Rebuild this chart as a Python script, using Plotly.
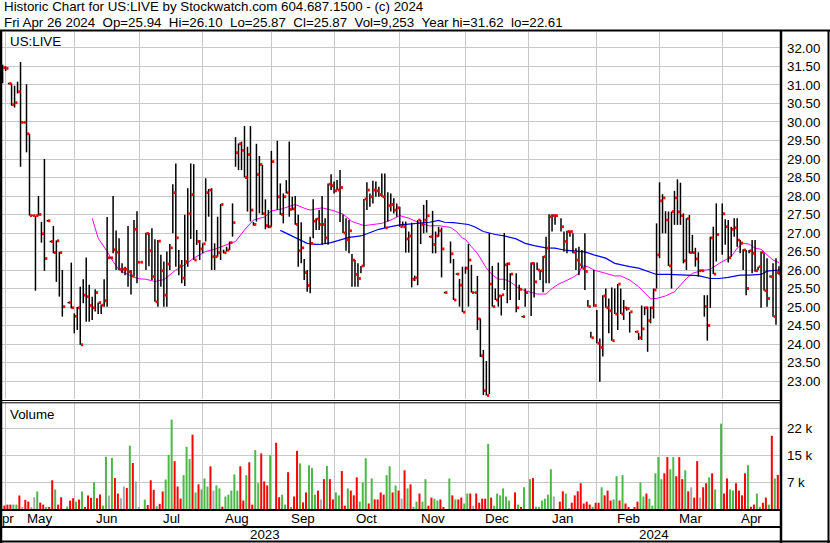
import numpy as np
import pandas as pd
import plotly.graph_objects as go

W, H = 830, 543

# ---- data: one entry per weekday from Fri 2023-04-28 to Fri 2024-04-26 (None = market holiday)
start_date, end_date = "2023-04-28", "2024-04-26"

high = [
    31.55, 31.50, 31.06, 31.04, 30.98, 31.09, 31.62, 30.00, 31.02, 29.68,
    27.48, 27.47, 28.00, 27.30, 29.00, 27.35, 26.79, 27.19, 26.80, 26.49,
    26.00, None, 25.14, 26.20, 24.83, 25.00, 25.55, 25.75, 26.34, 25.60,
    25.28, 25.48, 25.12, 25.07, 25.75, 27.43, 26.35, 28.00, 27.07, 26.86,
    26.18, 26.09, 27.19, 26.00, 27.35, 27.59, 26.22, None, 27.01, 27.00,
    27.13, 26.83, 26.81, 26.41, 26.23, 26.50, 26.70, 28.32, 28.88, 26.54,
    26.27, 27.49, 28.21, 28.88, 28.86, 27.08, 26.81, 26.72, 28.48, 28.19,
    28.21, 26.72, 27.44, 27.78, 26.55, 26.63, 26.77, 27.80, 29.59, 29.42,
    29.47, 29.89, 29.33, 29.89, 27.30, 29.41, 29.08, 28.84, 27.91, 27.62,
    29.22, None, 29.49, 28.34, 28.07, 28.43, 29.47, 27.98, 28.00, 27.49,
    27.29, 26.30, 26.00, 26.90, 27.91, 27.40, 27.62, 28.00, 27.40, 28.34,
    28.59, 28.39, 28.43, 28.70, 27.50, 27.40, 27.35, 26.43, 26.27, 26.18,
    26.11, 27.92, 28.37, 28.07, 28.41, 28.39, 28.25, 28.61, 28.61, 28.10,
    28.07, 27.94, 27.80, 27.71, 27.31, 27.31, 27.04, 27.28, 25.85, 27.35,
    27.35, 27.76, 27.89, 26.92, 27.60, 27.04, 27.17, 27.15, 25.41, None,
    26.77, 26.30, 25.91, 25.76, 26.09, 26.09, 26.70, 26.14, 25.40, 25.84,
    24.69, 23.84, 23.54, 27.00, 26.11, 25.50, 26.20, 25.32, 27.00, 26.20,
    25.91, None, 25.91, 25.60, 24.76, 25.50, None, 26.20, 26.20, 26.20,
    26.00, 26.38, 26.90, 27.51, 27.51, 27.51, None, 27.40, 27.04, 27.06,
    27.06, 26.99, 26.59, 26.63, 26.54, 26.99, 25.19, 24.33, 26.00, 24.92,
    24.15, 25.32, 25.50, 25.23, 25.53, 25.50, 25.62, 25.50, 25.19, 25.00,
    24.87, None, 24.35, 24.30, 25.04, 25.01, 25.01, 25.01, 25.50, 27.26,
    28.37, 28.05, 27.59, 27.58, 27.58, 28.14, 28.45, 28.36, 27.53, 27.40,
    27.49, 26.95, 26.60, 26.48, 26.01, 25.32, 25.32, 26.90, 27.17, 27.80,
    None, 27.80, 27.37, 27.35, 27.17, 27.40, 27.40, 26.81, 26.56, 26.54,
    26.54, 26.81, 26.81, 26.09, 26.50, 26.45, 26.32, 25.85, 26.18, 26.32, 26.10,
]
low = [
    31.05, 31.38, 31.02, 30.44, 30.39, 30.77, 28.79, 29.98, 29.18, 27.47,
    27.46, 25.44, 27.47, 26.74, 25.98, 27.31, 26.75, 26.45, 25.68, 25.28,
    24.74, None, 25.10, 24.96, 24.29, 24.38, 23.98, 25.10, 24.60, 24.60,
    24.65, 24.88, 24.81, 24.81, 25.01, 25.01, 26.31, 26.45, 26.00, 26.00,
    25.91, 25.86, 25.55, 25.34, 25.82, 25.64, 26.20, None, 26.00, 26.10,
    25.73, 25.14, 25.01, 25.55, 25.01, 25.01, 26.00, 26.99, 26.09, 25.86,
    25.64, 25.57, 26.09, 26.84, 26.27, 26.68, 26.27, 26.45, 26.77, 27.44,
    26.00, 26.00, 26.36, 26.27, 26.45, 26.50, 26.54, 26.90, 28.79, 28.70,
    28.70, 28.50, 27.58, 27.31, 27.20, 27.31, 27.53, 27.49, 27.10, 27.13,
    27.17, None, 27.62, 27.49, 27.26, 28.07, 27.44, 27.62, 27.22, 26.09,
    26.18, 25.73, 25.41, 25.37, 26.86, 27.08, 27.08, 26.68, 26.70, 26.68,
    28.16, 28.07, 28.16, 27.30, 27.00, 26.52, 26.45, 25.55, 25.55, 25.55,
    25.91, 26.09, 27.62, 27.71, 27.80, 27.98, 27.98, 27.98, 27.14, 27.31,
    27.58, 27.53, 27.44, 27.17, 27.17, 26.47, 26.47, 25.53, 25.70, 25.59,
    26.70, 26.99, 27.01, 26.88, 26.45, 26.45, 26.90, 25.80, 25.37, None,
    26.18, 25.19, 25.87, 25.01, 24.86, 25.90, 25.01, 25.39, 25.38, 24.38,
    23.65, 22.62, 22.61, 22.65, 25.01, 25.19, 25.01, 24.77, 25.46, 25.10,
    25.19, None, 24.86, 25.19, 24.72, 25.01, None, 24.76, 25.26, 26.00,
    25.73, 25.40, 25.64, 25.64, 27.04, 27.22, None, 27.04, 26.50, 26.45,
    26.90, 26.45, 26.00, 25.86, 26.04, 25.46, 25.01, 24.17, 25.01, 24.02,
    22.98, 23.66, 24.98, 24.29, 24.09, 24.81, 24.38, 24.81, 24.65, 24.90,
    24.31, None, 24.31, 24.11, 24.11, 24.78, 23.79, 24.56, 24.69, 25.50,
    26.32, 26.99, 26.99, 26.11, 25.50, 27.22, 27.22, 27.22, 26.18, 26.00,
    26.45, 26.45, 26.09, 25.82, 25.97, 24.74, 24.09, 24.98, 25.89, 26.23,
    None, 26.41, 26.68, 26.20, 26.36, 26.90, 26.63, 26.45, 26.00, 25.32,
    26.45, 25.91, 25.95, 26.00, 24.98, 25.44, 25.01, 25.80, 24.74, 24.52, 25.87,
]
close = [
    31.47, 31.45, 31.04, 30.47, 30.52, 30.82, 29.99, 29.99, 29.68, 27.47,
    27.47, 27.47, 27.50, 26.98, 26.31, 27.33, 26.77, 26.47, 26.79, 26.47,
    25.01, None, 25.12, 24.98, 24.75, 24.98, 23.98, 25.32, 25.28, 25.04,
    24.98, 25.39, 25.12, 25.05, 25.17, 26.33, 26.33, 26.55, 26.48, 26.02,
    26.02, 26.02, 25.95, 25.84, 27.10, 26.21, 26.21, None, 26.99, 26.52,
    25.82, 25.14, 26.78, 25.98, 25.32, 26.16, 26.60, 28.09, 26.87, 26.11,
    25.78, 26.23, 27.52, 28.04, 26.27, 26.77, 26.57, 26.71, 28.09, 28.16,
    26.36, 26.36, 26.47, 27.77, 26.47, 26.54, 26.74, 27.28, 29.17, 29.41,
    29.23, 28.50, 29.12, 27.62, 27.23, 28.58, 28.85, 27.52, 27.20, 27.17,
    28.93, None, 27.98, 27.50, 27.98, 28.09, 27.64, 27.65, 27.23, 26.52,
    26.60, 25.93, 25.58, 26.72, 27.32, 27.38, 27.23, 27.23, 26.87, 28.32,
    28.28, 28.14, 28.16, 28.23, 27.00, 26.82, 27.06, 26.27, 25.88, 25.77,
    26.11, 27.92, 28.16, 27.98, 28.16, 28.14, 28.04, 27.98, 27.14, 27.74,
    27.77, 27.62, 27.68, 27.17, 27.17, 26.84, 26.92, 25.75, 25.79, 27.35,
    27.23, 27.35, 27.47, 26.90, 26.69, 26.92, 27.06, 26.57, 25.39, None,
    26.44, 25.19, 25.89, 25.59, 24.86, 26.05, 26.27, 25.39, 25.39, 24.68,
    23.68, 22.74, 22.61, 25.62, 25.01, 25.19, 25.30, 25.33, 26.14, 26.17,
    25.89, None, 24.98, 25.48, 24.74, 25.39, None, 26.18, 25.68, 26.00,
    25.98, 26.36, 26.59, 27.44, 27.47, 27.47, None, 27.17, 26.77, 27.04,
    27.04, 26.48, 26.27, 26.14, 26.04, 25.96, 25.01, 24.17, 25.04, 24.02,
    23.91, 25.30, 24.98, 24.90, 24.09, 24.81, 25.62, 24.81, 24.98, 24.96,
    24.87, None, 24.33, 24.17, 24.41, 24.98, 24.63, 24.98, 25.46, 26.41,
    27.87, 27.95, 27.35, 26.11, 27.58, 27.95, 27.57, 27.47, 26.25, 27.39,
    26.47, 26.47, 26.30, 25.98, 25.98, 25.01, 24.50, 26.87, 25.89, 26.96,
    None, 27.52, 27.17, 26.33, 27.10, 27.14, 26.81, 26.73, 26.54, 25.50,
    26.52, 26.45, 25.98, 26.09, 26.48, 25.44, 25.23, 25.82, 24.74, 25.93, 25.87,
]
# volume in thousands of shares
volume_k = [
    0.64, 0.92, 1.19, 1.19, 1.19, 1.19, 3.67, 0.46, 2.48, 2.02,
    0.28, 3.2, 4.77, 1.74, 1.19, 0.46, 0.46, 7.8, 5.3, 1.19,
    3.2, None, 0.64, 2.29, 2.93, 2.02, 2.57, 4.77, 0.46, 3.67,
    3.03, 7.24, 2.93, 3.94, 0.92, 14.2, 3.67, 13.9, 8.4, 4.2,
    2.93, 6.1, 5.7, 17.2, 12.5, 7.5, 0.5, None, 2.57, 1.1,
    7.8, 5.2, 0.73, 1.4, 4.77, 8.0, 14.7, 24.3, 13.0, 6.1,
    2.84, 9.2, 16.9, 13.6, 20.2, 4.5, 6.7, 5.3, 8.3, 6.1,
    11.6, 5.0, 6.4, 5.6, 0.64, 3.4, 3.9, 5.0, 9.4, 5.0,
    11.6, 2.3, 9.2, 12.7, 1.2, 16.0, 7.0, 15.1, 7.5, 6.4,
    14.7, None, 18.0, 3.2, 3.9, 1.2, 10.0, 0.3, 3.4, 15.8,
    12.4, 1.8, 4.5, 11.9, 11.1, 3.9, 5.0, 2.6, 8.1, 11.7,
    8.1, 2.6, 4.5, 3.7, 10.3, 0.9, 5.6, 5.0, 3.7, 8.6,
    2.0, 7.2, 13.8, 1.5, 8.3, 2.6, 2.6, 4.5, 3.9, 9.2,
    11.6, 4.5, 6.4, 5.0, 2.8, 10.5, 5.6, 6.7, 0.6, 2.0,
    4.2, 2.0, 8.1, 0.9, 3.1, 2.8, 2.3, 2.6, 0.3, None,
    8.3, 3.7, 2.6, 2.6, 3.1, 1.5, 4.2, 4.2, 0.9, 4.2,
    1.7, 2.8, 2.8, 17.7, 3.1, 0.9, 4.2, 3.7, 5.6, 3.4,
    2.3, None, 4.5, 1.2, 0.4, 5.9, None, 8.1, 8.4, 0.6,
    0.6, 2.3, 2.8, 3.9, 10.8, 3.4, None, 2.0, 4.8, 4.2,
    0.1, 1.7, 3.7, 4.8, 7.0, 1.5, 2.0, 1.2, 0.6, 1.7,
    1.7, 5.9, 3.7, 5.0, 2.3, 2.6, 8.9, 2.3, 9.2, 1.5,
    0.4, None, 0.4, 2.0, 7.2, 3.4, 4.2, 2.8, 0.9, 9.7,
    14.1, 8.1, 9.7, 14.1, 10.8, 14.1, 8.9, 14.1, 8.1, 10.5,
    4.8, 5.9, 3.1, 13.0, 3.1, 5.9, 7.0, 8.6, 9.7, 5.3,
    None, 23.2, 4.2, 8.3, 5.3, 5.0, 7.0, 5.0, 3.7, 9.7,
    11.9, 0.6, 1.2, 4.2, 0.6, 1.7, 3.1, 1.2, 19.9, 8.3, 9.25,
]
# volume bar colour: g = up day, r = down day, n = unchanged, - = holiday
vol_dir = (
    "nrrrggrnrr" "nngrrgrrgr" "r-grrgrgrr" "rgrrggngrr" "nnrgrnn-gr"
    "rrgrrgggrr" "rgggrgrggg" "rnggrggggg" "rrgrrggrrr" "g-rrggrgrr"
    "grrgggrnrg" "rrggrrgrrr" "gggrgrrrrg" "grgrnrgrgg" "rggrrggrr-"
    "grgrrggrnr" "rrrgrggggg" "g-rgrg-grg" "gggggn-rrg" "nrrrrrrrgr"
    "rgrrrggrgr" "r-rrggrggg" "ggrrggrrrg" "rnrrnrrgrg" "-grrggrrrr"
    "grrggrrgrgr"
)

# moving averages: (weekday position, value)
ma_pink_pos = [30, 32, 35, 37, 39, 42, 44, 46, 48, 51, 54, 58, 61, 64, 68, 71, 74, 78, 81, 84,
               88, 90, 93, 97, 98, 101, 103, 107, 111, 114, 117, 121, 124, 127, 130, 133, 136, 140,
               143, 146, 150, 152, 154, 155, 157, 159, 162, 164, 166, 168, 170, 173, 175, 177, 179,
               182, 184, 186, 188, 191, 193, 194, 196, 198, 202, 205, 207, 210, 213, 216, 217, 219,
               222, 225, 227, 229, 231, 234, 237, 240, 244, 246, 248, 250, 252, 254, 256, 258, 260]
ma_pink_val = [27.40, 26.86, 26.50, 26.23, 26.00, 25.88, 25.80, 25.76, 25.75, 25.69, 25.74, 26.00,
               26.14, 26.32, 26.50, 26.56, 26.65, 26.77, 27.08, 27.35, 27.44, 27.60, 27.64, 27.74,
               27.77, 27.67, 27.62, 27.68, 27.60, 27.51, 27.31, 27.20, 27.23, 27.26, 27.35, 27.47,
               27.40, 27.26, 27.19, 27.20, 27.15, 27.04, 26.86, 26.83, 26.63, 26.45, 26.05, 25.87,
               25.75, 25.75, 25.68, 25.50, 25.44, 25.40, 25.35, 25.35, 25.50, 25.61, 25.68, 25.80,
               25.91, 26.11, 26.09, 26.00, 25.91, 25.84, 25.84, 25.73, 25.55, 25.32, 25.22, 25.23,
               25.30, 25.41, 25.59, 25.77, 25.91, 25.98, 26.02, 26.18, 26.36, 26.59, 26.72, 26.70,
               26.59, 26.56, 26.41, 26.27, 26.20]
ma_blue_pos = [93, 96, 99, 102, 105, 106, 110, 113, 116, 120, 123, 126, 130, 133, 136, 140, 143, 146,
               148, 151, 154, 156, 158, 161, 165, 168, 172, 175, 178, 182, 185, 188, 192, 195, 198,
               202, 205, 207, 210, 213, 217, 219, 223, 227, 230, 233, 237, 240, 243, 247, 250, 254,
               256, 258, 260]
ma_blue_val = [27.07, 26.96, 26.83, 26.72, 26.69, 26.69, 26.74, 26.81, 26.88, 26.92, 27.01, 27.10,
               27.17, 27.22, 27.24, 27.26, 27.29, 27.34, 27.29, 27.28, 27.26, 27.23, 27.17, 27.04,
               26.96, 26.92, 26.84, 26.72, 26.66, 26.60, 26.59, 26.54, 26.51, 26.49, 26.41, 26.32,
               26.18, 26.14, 26.09, 26.05, 25.95, 25.88, 25.88, 25.86, 25.85, 25.85, 25.77, 25.77,
               25.80, 25.86, 25.86, 25.88, 25.97, 25.98, 26.00]

price_ticks = [23.0 + 0.5 * k for k in range(19)]
vol_ticks = [7333, 14667, 22000]
vol_tick_text = ["7 k", "15 k", "22 k"]
title_line1 = "Historic Chart for US:LIVE by Stockwatch.com 604.687.1500 - (c) 2024"
title_line2 = ("Fri Apr 26 2024\u00a0\u00a0Op=25.94\u00a0\u00a0Hi=26.10\u00a0\u00a0Lo=25.87\u00a0\u00a0"
               "Cl=25.87\u00a0\u00a0Vol=9,253\u00a0\u00a0Year hi=31.62\u00a0\u00a0lo=22.61")

# ---- geometry helpers (pixels -> paper)
def px(x):
    return x / W

def py(y):
    return 1 - y / H

dates = pd.bdate_range(start_date, end_date)
d0 = dates[0].date()

def wpos(d):
    return int(np.busday_count(d0, pd.Timestamp(d).date()))

X_LO, X_HI = -0.206, 260.34
FONT = "Liberation Sans, Arial, sans-serif"
FS = 13.33

# month start positions (first weekday of each month)
month_firsts = pd.date_range("2023-04-01", "2024-05-01", freq="MS")
month_pos = [wpos(m + pd.offsets.BDay(0)) for m in month_firsts]
grid_pos = [p for p in month_pos if X_LO < p < X_HI]

# ---- traces
bx, by, tx, ty = [], [], [], []
vx, vy, vc = [], [], []
colmap = {"g": "#4DB847", "r": "#FF0000", "n": "#A8A8A8"}
for p in range(len(dates)):
    if high[p] is None:
        continue
    bx += [p, p, None]
    by += [low[p], high[p], None]
    tx += [p + 0.2, p + 0.97, None]
    ty += [close[p], close[p], None]
    vx.append(p)
    vy.append(volume_k[p] * 1000)
    vc.append(colmap[vol_dir[p]])

fig = go.Figure()
fig.add_trace(go.Scatter(x=ma_pink_pos, y=ma_pink_val, mode="lines",
                         line=dict(color="#FF00FF", width=1), hoverinfo="skip"))
fig.add_trace(go.Scatter(x=ma_blue_pos, y=ma_blue_val, mode="lines",
                         line=dict(color="#0000FF", width=1.2), hoverinfo="skip"))
fig.add_trace(go.Scatter(x=bx, y=by, mode="lines", line=dict(color="black", width=1.5),
                         hoverinfo="skip"))
fig.add_trace(go.Scatter(x=tx, y=ty, mode="lines", line=dict(color="#FF0000", width=2.8),
                         hoverinfo="skip"))
fig.add_trace(go.Bar(x=vx, y=vy, marker=dict(color=vc, line=dict(width=0)),
                     width=0.67, offset=-0.73, xaxis="x2", yaxis="y2", hoverinfo="skip"))

grid = "#C8C8C8"
tickfont = dict(family=FONT, size=FS, color="#000000")
fig.update_layout(
    width=W, height=H, margin=dict(l=0, r=0, t=0, b=0),
    paper_bgcolor="white", plot_bgcolor="white", showlegend=False,
    xaxis=dict(domain=[px(2), px(780)], range=[X_LO, X_HI], anchor="y",
               tickvals=grid_pos, showticklabels=False, ticks="",
               showgrid=True, gridcolor=grid, gridwidth=1, zeroline=False, showline=False),
    yaxis=dict(domain=[py(399), py(32)], range=[22.514, 32.432], anchor="x", side="right",
               tickvals=price_ticks, ticktext=[f"{v:.2f}" for v in price_ticks],
               ticks="", tickfont=tickfont, ticklabelstandoff=6,
               showgrid=True, gridcolor=grid, gridwidth=1, zeroline=False, showline=False),
    xaxis2=dict(domain=[px(2), px(780)], range=[X_LO, X_HI], anchor="y2",
                tickvals=grid_pos, showticklabels=False, ticks="",
                showgrid=True, gridcolor=grid, gridwidth=1, zeroline=False, showline=False),
    yaxis2=dict(domain=[py(509), py(403)], range=[0, 28800], anchor="x2", side="right",
                tickvals=vol_ticks, ticktext=vol_tick_text, ticks="", tickfont=tickfont,
                ticklabelstandoff=6,
                showgrid=True, gridcolor=grid, gridwidth=1, zeroline=False, showline=False),
)

# ---- frame lines
def hline(y, x0, x1, w=2):
    fig.add_shape(type="line", xref="paper", yref="paper", x0=px(x0), x1=px(x1),
                  y0=py(y), y1=py(y), line=dict(color="black", width=w), layer="above")

def vline(x, y0, y1, w=2):
    fig.add_shape(type="line", xref="paper", yref="paper", x0=px(x), x1=px(x),
                  y0=py(y0), y1=py(y1), line=dict(color="black", width=w), layer="above")

hline(30.5, 0, 830, 2)
hline(400.5, 0, 781, 1)
hline(402.8, 0, 781, 1)
hline(510, 0, 781, 2)
hline(527, 0, 781, 2)
hline(541.5, 0, 830, 2)
vline(1, 30, 543, 2.5)
vline(781, 30, 543, 2.5)
vline(828.5, 30, 543, 2)

# ---- texts
ann = []
def text(s, x, y, xanchor="left", xref="paper", size=FS):
    ann.append(dict(text=s, x=x, y=py(y), xref=xref, yref="paper", xanchor=xanchor,
                    yanchor="middle", showarrow=False,
                    font=dict(family=FONT, size=size, color="#000000")))

text(title_line1, px(2), 7)
text(title_line2, px(2), 22)
text("US:LIVE", px(8), 41)
text("Volume", px(8), 414)

# month labels centred on the visible part of each month
for k in range(len(month_firsts) - 1):
    a = max(month_pos[k], X_LO)
    b = min(month_pos[k + 1], X_HI)
    if b <= X_LO or a >= X_HI:
        continue
    text(month_firsts[k].strftime("%b"), (a + b) / 2, 518.5, xanchor="center", xref="x")

# year labels centred on the visible part of each year
y_split = wpos("2024-01-01")
text("2023", (X_LO + y_split) / 2, 534.5, xanchor="center", xref="x")
text("2024", (y_split + X_HI) / 2, 534.5, xanchor="center", xref="x")
fig.update_layout(annotations=ann)

fig.write_html("out.html", config={"displayModeBar": False},
               post_script="document.body.style.margin='0';")
